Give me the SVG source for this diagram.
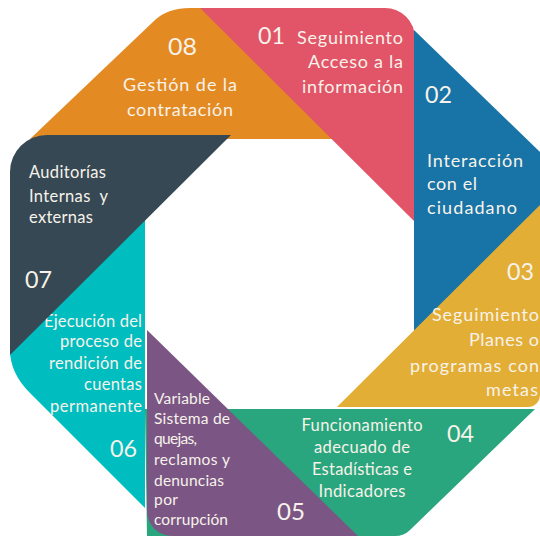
<svg xmlns="http://www.w3.org/2000/svg" width="540" height="537" viewBox="0 0 540 537">
<style>
text{font-family:Lato,"Open Sans","DejaVu Sans",sans-serif;fill:#F7F2EA}
.num{font-size:23.5px}
.a{font-size:18px}
.b{font-size:16.5px}
.c{font-size:15.5px}
.s{text-anchor:start}
.e{text-anchor:end}
.m{text-anchor:middle}
</style>
<rect width="540" height="537" fill="#ffffff"/>
<g id="node-08">
<path d="M30,139 L155,20 Q168,8 190,8 L335,8 L335,139 Z" fill="#E38A23"/>
<text class="num m" x="182.5" y="55" textLength="29" lengthAdjust="spacingAndGlyphs">08</text>
<text class="a m" x="180" y="91" textLength="114" lengthAdjust="spacing">Gestión de la</text>
<text class="a m" x="180" y="116" textLength="106" lengthAdjust="spacing">contratación</text>
</g>
<g id="node-01">
<path d="M200,8 L385,8 A30,30 0 0 1 415,38 L415,222 Z" fill="#E25468"/>
<text class="num s" x="258" y="44" textLength="27" lengthAdjust="spacingAndGlyphs">01</text>
<text class="a e" x="403" y="44" textLength="106" lengthAdjust="spacing">Seguimiento</text>
<text class="a e" x="403" y="68" textLength="95" lengthAdjust="spacing">Acceso a la</text>
<text class="a e" x="403" y="93" textLength="101" lengthAdjust="spacing">información</text>
</g>
<g id="node-02">
<path d="M414,30 L540,152 L540,206 L414,332 Z" fill="#1874A6"/>
<text class="num s" x="425" y="103" textLength="27" lengthAdjust="spacingAndGlyphs">02</text>
<text class="a s" x="427" y="167" textLength="96" lengthAdjust="spacing">Interacción</text>
<text class="a s" x="427" y="190" textLength="50" lengthAdjust="spacing">con el</text>
<text class="a s" x="427" y="214" textLength="90" lengthAdjust="spacing">ciudadano</text>
</g>
<g id="node-03">
<path d="M540,205 L540,395 A12,12 0 0 1 528,407 L337,407 Z" fill="#E3AE35"/>
<text class="num s" x="507" y="280" textLength="27" lengthAdjust="spacingAndGlyphs">03</text>
<text class="a e" x="539" y="321" textLength="107" lengthAdjust="spacing">Seguimiento</text>
<text class="a e" x="539" y="346" textLength="70" lengthAdjust="spacing">Planes o</text>
<text class="a e" x="539" y="372" textLength="129" lengthAdjust="spacing">programas con</text>
<text class="a e" x="538" y="396" textLength="52" lengthAdjust="spacing">metas</text>
</g>
<g id="node-04">
<path d="M145,409 L535,409 L410,530 Q404,536 395,536 L147,536 Z" fill="#29A67D"/>
<text class="num s" x="447" y="442" textLength="27" lengthAdjust="spacingAndGlyphs">04</text>
<text class="b m" x="362" y="431" textLength="121" lengthAdjust="spacing">Funcionamiento</text>
<text class="b m" x="362" y="453" textLength="96" lengthAdjust="spacing">adecuado de</text>
<text class="b m" x="362" y="475" textLength="100" lengthAdjust="spacing">Estadísticas e</text>
<text class="b m" x="362" y="497" textLength="87" lengthAdjust="spacing">Indicadores</text>
</g>
<g id="node-05">
<path d="M147,330 L358,536 L172,536 A25,25 0 0 1 147,511 Z" fill="#7B5685"/>
<text class="num s" x="277" y="520" textLength="28" lengthAdjust="spacingAndGlyphs">05</text>
<text class="c s" x="154" y="404" textLength="56" lengthAdjust="spacing">Variable</text>
<text class="c s" x="154" y="424" textLength="76" lengthAdjust="spacing">Sistema de</text>
<text class="c s" x="154" y="444" textLength="43" lengthAdjust="spacing">quejas,</text>
<text class="c s" x="154" y="465" textLength="76" lengthAdjust="spacing">reclamos y</text>
<text class="c s" x="154" y="486" textLength="70" lengthAdjust="spacing">denuncias</text>
<text class="c s" x="154" y="505" textLength="24" lengthAdjust="spacing">por</text>
<text class="c s" x="154" y="525" textLength="74" lengthAdjust="spacing">corrupción</text>
</g>
<g id="node-06">
<path d="M145,205 L145,508 L30,393 Q10,373 10,350 L10,340 Z" fill="#00BDC0"/>
<text class="num s" x="110" y="457" textLength="27" lengthAdjust="spacingAndGlyphs">06</text>
<text class="b e" x="142" y="327" textLength="98" lengthAdjust="spacing">Ejecución del</text>
<text class="b e" x="142" y="347" textLength="82" lengthAdjust="spacing">proceso de</text>
<text class="b e" x="142" y="369" textLength="93" lengthAdjust="spacing">rendición de</text>
<text class="b e" x="142" y="390" textLength="58" lengthAdjust="spacing">cuentas</text>
<text class="b e" x="142" y="412" textLength="92" lengthAdjust="spacing">permanente</text>
</g>
<g id="node-07">
<path d="M10,355 L10,172 A37,37 0 0 1 47,135 L231,135 Z" fill="#354853"/>
<text class="num s" x="25" y="288" textLength="27" lengthAdjust="spacingAndGlyphs">07</text>
<text class="b s" x="29" y="178" textLength="77" lengthAdjust="spacing">Auditorías</text>
<text class="b s" x="29" y="202" textLength="79" lengthAdjust="spacing" xml:space="preserve">Internas  y</text>
<text class="b s" x="29" y="223" textLength="64" lengthAdjust="spacing">externas</text>
</g>
<g id="connectors"></g>
</svg>
